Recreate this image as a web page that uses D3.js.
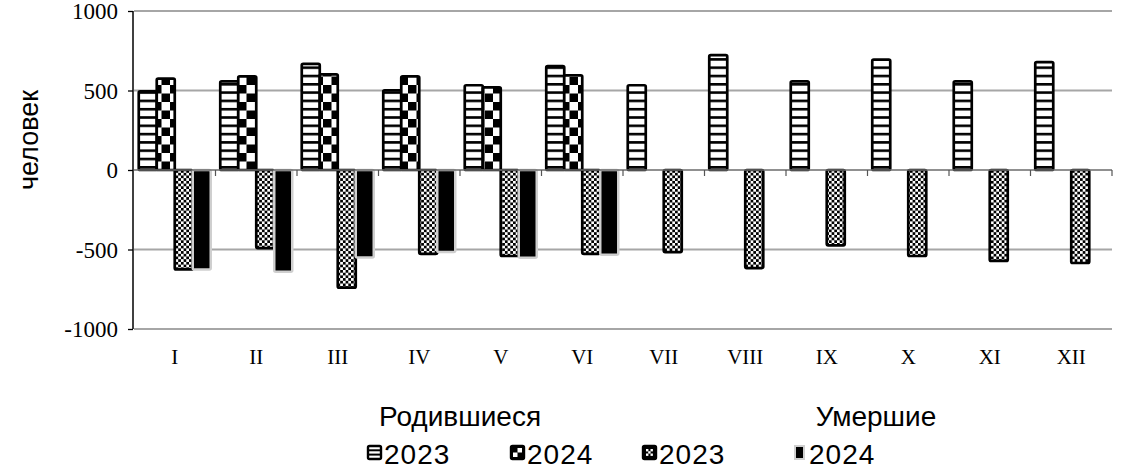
<!DOCTYPE html>
<html><head><meta charset="utf-8">
<script src="https://cdn.jsdelivr.net/npm/d3@7/dist/d3.min.js"></script>
<style>
html,body{margin:0;padding:0;background:#fff;}
svg{display:block;}
</style></head>
<body><svg id="c" width="1136" height="469"></svg>
<script>
const months = ["I","II","III","IV","V","VI","VII","VIII","IX","X","XI","XII"];
const births2023 = [495, 558, 667, 501, 533, 654, 533, 722, 558, 694, 558, 679];
const births2024 = [575, 589, 602, 589, 520, 596, null, null, null, null, null, null];
const deaths2023 = [-625, -491, -740, -527, -541, -527, -516, -617, -474, -541, -572, -585];
const deaths2024 = [-625, -640, -550, -516, -552, -533, null, null, null, null, null, null];
const yTicks = [-1000, -500, 0, 500, 1000];
const groupLabels = ["Родившиеся", "Умершие"];
const yTitle = "человек";
const seriesKeys = ["b23","b24","d23","d24"];
const seriesNames = ["2023","2024","2023","2024"];
const seriesData = [births2023, births2024, deaths2023, deaths2024];

const svg = d3.select("#c");
const defs = svg.append("defs");
const pStripe = defs.append("pattern").attr("id","pStripe").attr("patternUnits","userSpaceOnUse")
  .attr("width",8).attr("height",8.3);
pStripe.append("rect").attr("width",8).attr("height",8.3).attr("fill","#fff");
pStripe.append("rect").attr("y",0).attr("width",8).attr("height",2.6).attr("fill","#000");

const pCheck = defs.append("pattern").attr("id","pCheck").attr("patternUnits","userSpaceOnUse")
  .attr("width",17).attr("height",17);
pCheck.append("rect").attr("width",17).attr("height",17).attr("fill","#fff");
pCheck.append("rect").attr("x",0).attr("y",0).attr("width",8.5).attr("height",8.5).attr("fill","#000");
pCheck.append("rect").attr("x",8.5).attr("y",8.5).attr("width",8.5).attr("height",8.5).attr("fill","#000");

const pFine = defs.append("pattern").attr("id","pFine").attr("patternUnits","userSpaceOnUse")
  .attr("width",5.4).attr("height",5.4);
pFine.append("rect").attr("width",5.4).attr("height",5.4).attr("fill","#fff");
pFine.append("rect").attr("x",0).attr("y",0).attr("width",2.7).attr("height",2.7).attr("fill","#000");
pFine.append("rect").attr("x",2.7).attr("y",2.7).attr("width",2.7).attr("height",2.7).attr("fill","#000");

const fills = {b23:"url(#pStripe)", b24:"url(#pCheck)", d23:"url(#pFine)", d24:"#000"};
const strokes = {b23:"#000", b24:"#000", d23:"#000", d24:"#cfcfcf"};

const pL = 134, pR = 1112, pT = 11, pB = 329;
const x0 = d3.scaleBand().domain(months).range([pL, pR]).paddingInner(0).paddingOuter(0);
const x1 = d3.scaleBand().domain(seriesKeys).range([0, x0.bandwidth()]).paddingInner(0).paddingOuter(0.264);
const y = d3.scaleLinear().domain([-1000, 1000]).range([pB, pT]);

svg.append("g").selectAll("line").data(yTicks.filter(d=>d!==0)).join("line")
  .attr("x1", pL).attr("x2", pR).attr("y1", d=>y(d)).attr("y2", d=>y(d))
  .attr("stroke","#a6a6a6").attr("stroke-width",2);

const rows = [];
months.forEach((m,i)=>{
  seriesKeys.forEach((k,j)=>{
    const v = seriesData[j][i];
    if (v !== null && v !== undefined) rows.push({m, k, v});
  });
});
svg.append("g").selectAll("rect").data(rows).join("rect")
  .attr("x", d=>x0(d.m)+x1(d.k))
  .attr("width", x1.bandwidth())
  .attr("y", d=>Math.min(y(d.v), y(0)))
  .attr("height", d=>Math.abs(y(d.v)-y(0)))
  .attr("rx",1.5)
  .attr("fill", d=>fills[d.k])
  .attr("stroke", d=>strokes[d.k])
  .attr("stroke-width", d=>d.k==="d24"?2.5:2.7);

const xAxis = d3.axisBottom(x0).tickSize(0).tickFormat("");
const gx = svg.append("g").attr("transform",`translate(0,${y(0)})`).call(xAxis);
gx.select(".domain").attr("stroke","#6b6b6b").attr("stroke-width",1.3).attr("d",`M${pL},0H${pR}`);
gx.selectAll(".tick").remove();
const bounds = months.map(m=>x0(m)+x0.bandwidth());
gx.selectAll("line.bt").data(bounds).join("line").attr("class","bt")
  .attr("x1",d=>d).attr("x2",d=>d).attr("y1",0).attr("y2",6).attr("stroke","#555").attr("stroke-width",1.2);

svg.append("g").selectAll("text").data(months).join("text")
  .attr("x", d=>x0(d)+x0.bandwidth()/2).attr("y", 364)
  .attr("text-anchor","middle")
  .attr("font-family","'Liberation Serif','Times New Roman',serif").attr("font-size",21)
  .attr("fill","#000").text(d=>d);

const yAxis = d3.axisLeft(y).tickValues(yTicks).tickSize(5).tickPadding(10).tickFormat(d=>String(d));
const gy = svg.append("g").attr("transform",`translate(${pL-1},0)`).call(yAxis);
gy.select(".domain").attr("stroke","#000").attr("stroke-width",1.5).attr("d",`M0,${y(1000)}V${y(-1000)}`);
gy.selectAll(".tick line").attr("stroke","#000").attr("stroke-width",1.3);
gy.selectAll(".tick text").attr("font-family","'Liberation Serif','Times New Roman',serif")
  .attr("font-size",23).attr("fill","#000").attr("dy","0.34em");

const sans = "'Liberation Sans',Arial,sans-serif";
svg.append("text").attr("transform","translate(38,140) rotate(-90)")
  .attr("text-anchor","middle").attr("font-family",sans)
  .attr("font-size",27).attr("fill","#000").text(yTitle);

svg.append("text").attr("x",460).attr("y",426).attr("text-anchor","middle")
  .attr("font-family",sans).attr("font-size",28).text(groupLabels[0]);
svg.append("text").attr("x",876).attr("y",426).attr("text-anchor","middle")
  .attr("font-family",sans).attr("font-size",28).text(groupLabels[1]);

const legX = [368, 511, 643, 795];
const lg = svg.append("g");
seriesKeys.forEach((k,i)=>{
  const g = lg.append("g").attr("transform",`translate(${legX[i]},446)`);
  if (k==="b23") {
    g.append("rect").attr("x",0).attr("y",0).attr("width",13).attr("height",13).attr("fill","#fff").attr("stroke","#000").attr("stroke-width",2.4).attr("rx",1.5);
    [4.3,8.6].forEach(yy=>g.append("line").attr("x1",0).attr("x2",13).attr("y1",yy).attr("y2",yy).attr("stroke","#000").attr("stroke-width",2));
  } else if (k==="b24") {
    g.append("rect").attr("x",0).attr("y",0).attr("width",13).attr("height",13).attr("fill","#000").attr("stroke","#000").attr("stroke-width",2.4).attr("rx",1.5);
    g.append("rect").attr("x",6.5).attr("y",2).attr("width",4.5).attr("height",4.5).attr("fill","#fff");
    g.append("rect").attr("x",2).attr("y",6.5).attr("width",4.5).attr("height",4.5).attr("fill","#fff");
  } else if (k==="d23") {
    g.append("rect").attr("x",0).attr("y",0).attr("width",13).attr("height",13).attr("fill","#000").attr("stroke","#000").attr("stroke-width",2.4).attr("rx",1.5);
    [[3,3],[7.5,3],[3,7.5],[7.5,7.5],[5.2,5.2]].forEach(p=>g.append("rect").attr("x",p[0]).attr("y",p[1]).attr("width",2.4).attr("height",2.4).attr("fill","#fff"));
  } else {
    g.append("rect").attr("x",0).attr("y",0).attr("width",9).attr("height",13).attr("fill","#000").attr("stroke","#cfcfcf").attr("stroke-width",2);
  }
  g.append("text").attr("x", k==="d24"?14:16).attr("y",18)
    .attr("font-family",sans).attr("font-size",28).attr("letter-spacing",1)
    .attr("fill","#000").text(seriesNames[i]);
});
</script></body></html>
